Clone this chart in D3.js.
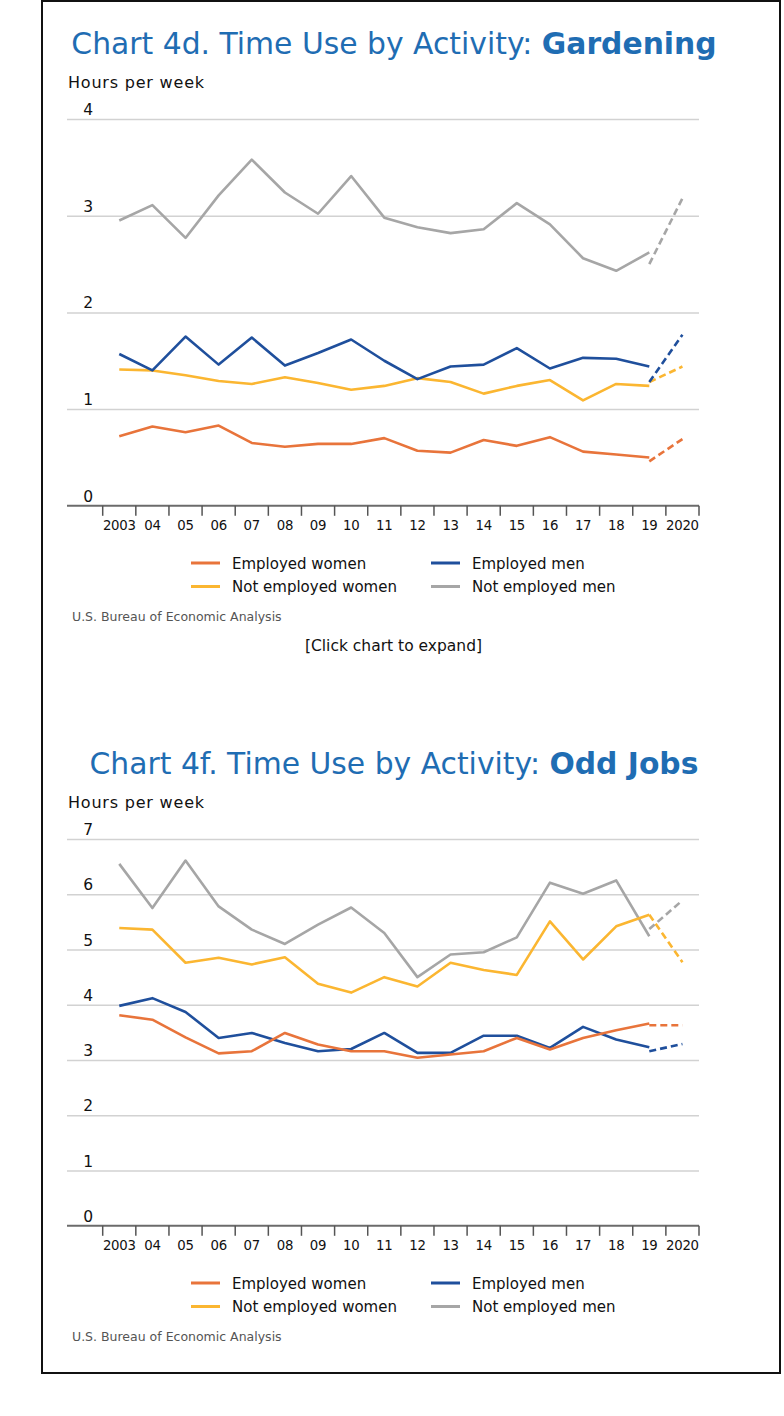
<!DOCTYPE html>
<html><head><meta charset="utf-8">
<script src="https://cdn.jsdelivr.net/npm/d3@7"></script>
<style>body{margin:0;background:#fff;} svg{display:block}</style>
</head><body>
<svg id="chart" width="784" height="1416"></svg>
<script>
// ---------- data ----------
const years = [2003,2004,2005,2006,2007,2008,2009,2010,2011,2012,2013,2014,2015,2016,2017,2018,2019,2020];
const yearLabels = ["2003","04","05","06","07","08","09","10","11","12","13","14","15","16","17","18","19","2020"];
const solidYears = years.slice(0, 17);          // 2003-2019 (solid lines)
const breakYears = [2019, 2020];                // dashed segment
const seriesNames = ["Employed women","Employed men","Not employed women","Not employed men"];
const seriesColors = ["#e8743b","#1f4f9c","#fbb631","#a6a6a6"];

// Chart 4d: Gardening (hours per week)
const gardEmployedWomen    = [0.72,0.82,0.76,0.83,0.65,0.61,0.64,0.64,0.70,0.57,0.55,0.68,0.62,0.71,0.56,0.53,0.50];
const gardEmployedMen      = [1.57,1.40,1.75,1.46,1.74,1.45,1.58,1.72,1.50,1.31,1.44,1.46,1.63,1.42,1.53,1.52,1.44];
const gardNotEmployedWomen = [1.41,1.40,1.35,1.29,1.26,1.33,1.27,1.20,1.24,1.32,1.28,1.16,1.24,1.30,1.09,1.26,1.24];
const gardNotEmployedMen   = [2.95,3.11,2.77,3.21,3.58,3.24,3.02,3.41,2.98,2.88,2.82,2.86,3.13,2.91,2.56,2.43,2.62];
const gardEmployedWomenBreak    = [0.46,0.69];
const gardEmployedMenBreak      = [1.28,1.77];
const gardNotEmployedWomenBreak = [1.28,1.44];
const gardNotEmployedMenBreak   = [2.50,3.18];
const gardTicks = [0,1,2,3,4];

// Chart 4f: Odd Jobs (hours per week)
const oddEmployedWomen    = [3.81,3.73,3.41,3.12,3.16,3.49,3.28,3.16,3.16,3.04,3.10,3.16,3.40,3.19,3.40,3.54,3.66];
const oddEmployedMen      = [3.98,4.12,3.87,3.40,3.49,3.31,3.16,3.20,3.49,3.13,3.13,3.44,3.44,3.22,3.60,3.37,3.23];
const oddNotEmployedWomen = [5.39,5.36,4.76,4.85,4.73,4.86,4.38,4.22,4.50,4.33,4.76,4.63,4.54,5.51,4.82,5.42,5.63];
const oddNotEmployedMen   = [6.55,5.75,6.61,5.78,5.36,5.10,5.45,5.76,5.30,4.50,4.91,4.95,5.22,6.21,6.01,6.25,5.24];
const oddEmployedWomenBreak    = [3.63,3.63];
const oddEmployedMenBreak      = [3.16,3.29];
const oddNotEmployedWomenBreak = [5.63,4.77];
const oddNotEmployedMenBreak   = [5.37,5.89];
const oddTicks = [0,1,2,3,4,5,6,7];

// ---------- drawing ----------
const svg = d3.select("#chart");
const FONT = "DejaVu Sans, Verdana, sans-serif";

// outer frame
svg.append("rect").attr("x",42).attr("y",1).attr("width",738).attr("height",1372)
  .attr("fill","none").attr("stroke","#111").attr("stroke-width",2);

function drawChart(oy, cfg) {
  const g = svg.append("g").attr("transform", `translate(0,${oy})`);
  const x = d3.scaleBand().domain(years).range([102.7, 699]);
  const y = d3.scaleLinear().domain([0, d3.max(cfg.ticks)]).range([505.8, 119]);
  const cx = d => x(d) + x.bandwidth()/2;

  // title
  const t = g.append("text").attr("x",394).attr("y",54).attr("text-anchor","middle")
    .attr("font-family",FONT).attr("font-size",29.8).attr("fill","#1f6db3");
  t.append("tspan").text(cfg.titleA);
  t.append("tspan").attr("font-weight","bold").text(cfg.titleB);

  g.append("text").attr("x",68).attr("y",88).attr("font-family",FONT).attr("font-size",16)
    .attr("letter-spacing",0.8).attr("fill","#111").text("Hours per week");

  // gridlines
  const yAxis = d3.axisLeft(y).tickValues(cfg.ticks.filter(v => v > 0)).tickSize(-(699-67)).tickFormat("");
  const gy = g.append("g").attr("transform","translate(67,0)").call(yAxis);
  gy.select(".domain").remove();
  gy.selectAll("line").attr("stroke","#d2d2d2").attr("stroke-width",1.5);

  // y labels
  g.selectAll(".ylab").data(cfg.ticks).enter().append("text")
    .attr("x",93).attr("y",d => y(d) - 4).attr("text-anchor","end")
    .attr("font-family",FONT).attr("font-size",15.5).attr("fill","#111").text(d => d);

  // x axis baseline
  g.append("line").attr("x1",67).attr("x2",699).attr("y1",y(0)).attr("y2",y(0))
    .attr("stroke","#6b6b6b").attr("stroke-width",2);
  // ticks at band edges
  const edges = years.map(d => x(d)).concat([x(years[years.length-1]) + x.bandwidth()]);
  g.selectAll(".xt").data(edges).enter().append("line")
    .attr("x1",d=>d).attr("x2",d=>d).attr("y1",y(0)).attr("y2",y(0)+10)
    .attr("stroke","#555").attr("stroke-width",1.5);
  g.selectAll(".xl").data(years).enter().append("text")
    .attr("x",d => cx(d)).attr("y",y(0)+24.5).attr("text-anchor","middle")
    .attr("font-family",FONT).attr("font-size",13.3).attr("letter-spacing",-0.3).attr("fill","#111")
    .text((d,i) => yearLabels[i]);

  // lines (draw order: gray, yellow, blue, orange)
  const order = [3,2,1,0];
  const line = d3.line().x(d => cx(d[0])).y(d => y(d[1]));
  order.forEach(i => {
    const solid = solidYears.map((yr,j) => [yr, cfg.solid[i][j]]);
    const brk = breakYears.map((yr,j) => [yr, cfg.brk[i][j]]);
    g.append("path").attr("d", line(solid)).attr("fill","none").attr("stroke",seriesColors[i])
      .attr("stroke-width",2.6).attr("stroke-linejoin","round");
    g.append("path").attr("d", line(brk)).attr("fill","none").attr("stroke",seriesColors[i])
      .attr("stroke-width",2.6).attr("stroke-dasharray","7,4");
  });

  // legend
  const legPos = [[191,563],[431,563],[191,586.5],[431,586.5]];
  seriesNames.forEach((name,i) => {
    const [lx,ly] = legPos[i];
    g.append("line").attr("x1",lx).attr("x2",lx+29).attr("y1",ly).attr("y2",ly)
      .attr("stroke",seriesColors[i]).attr("stroke-width",3);
    g.append("text").attr("x",lx+41).attr("y",ly+5.5).attr("font-family",FONT).attr("font-size",15)
      .attr("fill","#111").text(name);
  });

  g.append("text").attr("x",72).attr("y",620.5).attr("font-family",FONT).attr("font-size",12.5)
    .attr("fill","#555").text("U.S. Bureau of Economic Analysis");
}

drawChart(0, {
  titleA: "Chart 4d. Time Use by Activity: ", titleB: "Gardening", ticks: gardTicks,
  solid: [gardEmployedWomen, gardEmployedMen, gardNotEmployedWomen, gardNotEmployedMen],
  brk: [gardEmployedWomenBreak, gardEmployedMenBreak, gardNotEmployedWomenBreak, gardNotEmployedMenBreak]
});
drawChart(720, {
  titleA: "Chart 4f. Time Use by Activity: ", titleB: "Odd Jobs", ticks: oddTicks,
  solid: [oddEmployedWomen, oddEmployedMen, oddNotEmployedWomen, oddNotEmployedMen],
  brk: [oddEmployedWomenBreak, oddEmployedMenBreak, oddNotEmployedWomenBreak, oddNotEmployedMenBreak]
});

svg.append("text").attr("x",393.5).attr("y",651).attr("text-anchor","middle")
  .attr("font-family",FONT).attr("font-size",15.5).attr("fill","#111").text("[Click chart to expand]");
</script>
</body></html>
